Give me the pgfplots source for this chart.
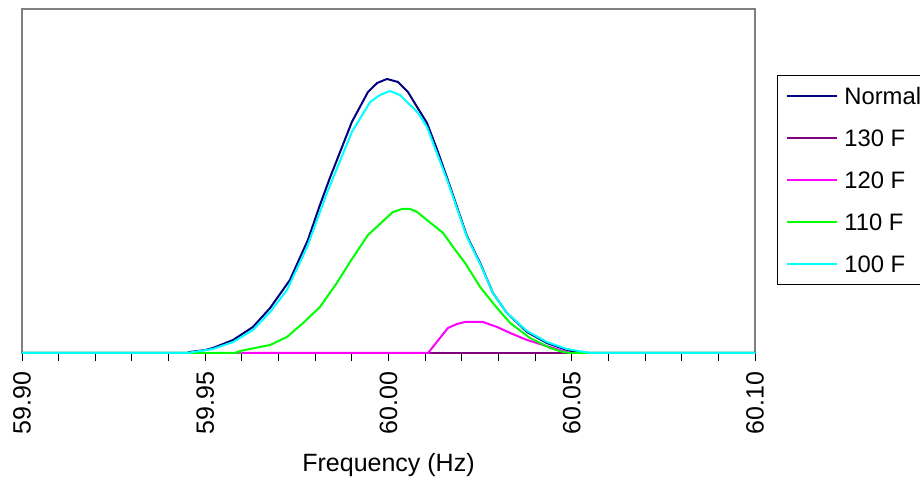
\documentclass[border=0pt]{standalone}
\usepackage{fontspec}
\setmainfont{Liberation Sans}
\usepackage{pgfplots}
\pgfplotsset{compat=1.18}

\definecolor{cNormal}{RGB}{0,0,128}
\definecolor{cOneThirty}{RGB}{128,0,128}
\definecolor{cOneTwenty}{RGB}{255,0,255}
\definecolor{cOneTen}{RGB}{0,255,0}
\definecolor{cOneHundred}{RGB}{0,255,255}
\definecolor{axisgray}{RGB}{128,128,128}
\newcommand{\chartfont}{\fontsize{12.5}{15}\selectfont}
\newcommand{\legendfont}{\fontsize{11.9}{14}\selectfont}

\begin{document}
\begin{tikzpicture}
\useasboundingbox (-11pt,-63.5pt) rectangle (449pt,176.5pt);
\begin{axis}[
    scale only axis,
    width=366.5pt, height=172pt,
    xmin=59.9, xmax=60.1,
    ymin=0, ymax=344,
    xtick={59.90,59.95,60.00,60.05,60.10},
    xticklabels={59.90,59.95,60.00,60.05,60.10},
    minor x tick num=4,
    ytick=\empty,
    xtick pos=lower,
    tick align=outside,
    major tick length=4pt, minor tick length=4pt,
    tick style={black, line width=0.5pt},
    axis line style={axisgray, line width=1pt},
    xticklabel style={font=\chartfont, yshift=-2pt, rotate=90, anchor=east},
    xlabel={Frequency (Hz)},
    xlabel style={font=\chartfont, at={(axis description cs:0.5,0)}, anchor=base, yshift=-59.5pt},
    legend style={at={(axis description cs:1.030,0.808)}, anchor=north west,
        draw=black, line width=0.5pt, fill=white,
        inner xsep=4.5pt, inner ysep=6pt, row sep=12.4pt, font=\legendfont,
        nodes={inner sep=0pt, text height=8.6pt, text depth=0pt},
        /tikz/every odd column/.append style={column sep=3.2pt}},
    legend cell align=left,
    legend image code/.code={\draw[#1, line width=0.75pt] (0pt,0pt) -- (25pt,0pt);},
    every axis plot/.append style={line width=1pt, line join=round},
    clip=false
]
% Normal
\addplot[cNormal] coordinates {
    (59.9000,0) (59.9450,0) (59.9458,1) (59.9500,3) (59.9521,5) (59.9576,13)
    (59.9630,26) (59.9677,45) (59.9731,73) (59.9780,113) (59.9813,148)
    (59.9840,175) (59.9870,203) (59.9900,231) (59.9944,261) (59.9969,270)
    (59.9996,274) (60.0026,271) (60.0053,261) (60.0078,246) (60.0105,230)
    (60.0133,203) (60.0160,175) (60.0214,117) (60.0250,90) (60.0285,60)
    (60.0323,40) (60.0378,21) (60.0432,10) (60.0487,3) (60.0523,0) (60.1000,0)
};
\addlegendentry{Normal}
% 130 F
\addplot[cOneThirty] coordinates {
    (59.9600,0) (60.0500,0)
};
\addlegendentry{130 F}
% 120 F
\addplot[cOneTwenty] coordinates {
    (59.9600,0) (60.0108,0) (60.0162,25) (60.0187,29) (60.0209,31)
    (60.0258,31) (60.0296,26) (60.0332,20) (60.0378,13) (60.0422,8)
    (60.0476,2) (60.0495,0)
};
\addlegendentry{120 F}
% 110 F
\addplot[cOneTen] coordinates {
    (59.9000,0) (59.9580,0) (59.9595,2) (59.9677,8) (59.9723,16) (59.9767,30)
    (59.9813,46) (59.9859,70) (59.9895,91) (59.9944,118) (60.0012,141)
    (60.0037,144) (60.0059,144) (60.0078,141) (60.0105,133) (60.0149,120)
    (60.0176,106) (60.0209,90) (60.0250,66) (60.0296,45) (60.0332,30)
    (60.0386,15) (60.0441,5) (60.0476,1) (60.0495,0) (60.1000,0)
};
\addlegendentry{110 F}
% 100 F
\addplot[cOneHundred] coordinates {
    (59.9000,0) (59.9450,0) (59.9486,2) (59.9521,4) (59.9576,11) (59.9630,23)
    (59.9677,41) (59.9723,63) (59.9778,106) (59.9832,160) (59.9900,221)
    (59.9950,251) (59.9977,258) (60.0004,262) (60.0031,258) (60.0059,248)
    (60.0081,240) (60.0105,226) (60.0160,173) (60.0214,116) (60.0250,89)
    (60.0285,60) (60.0323,40) (60.0378,22) (60.0432,11) (60.0487,4)
    (60.0550,0) (60.1000,0)
};
\addlegendentry{100 F}
\end{axis}
\end{tikzpicture}
\end{document}
